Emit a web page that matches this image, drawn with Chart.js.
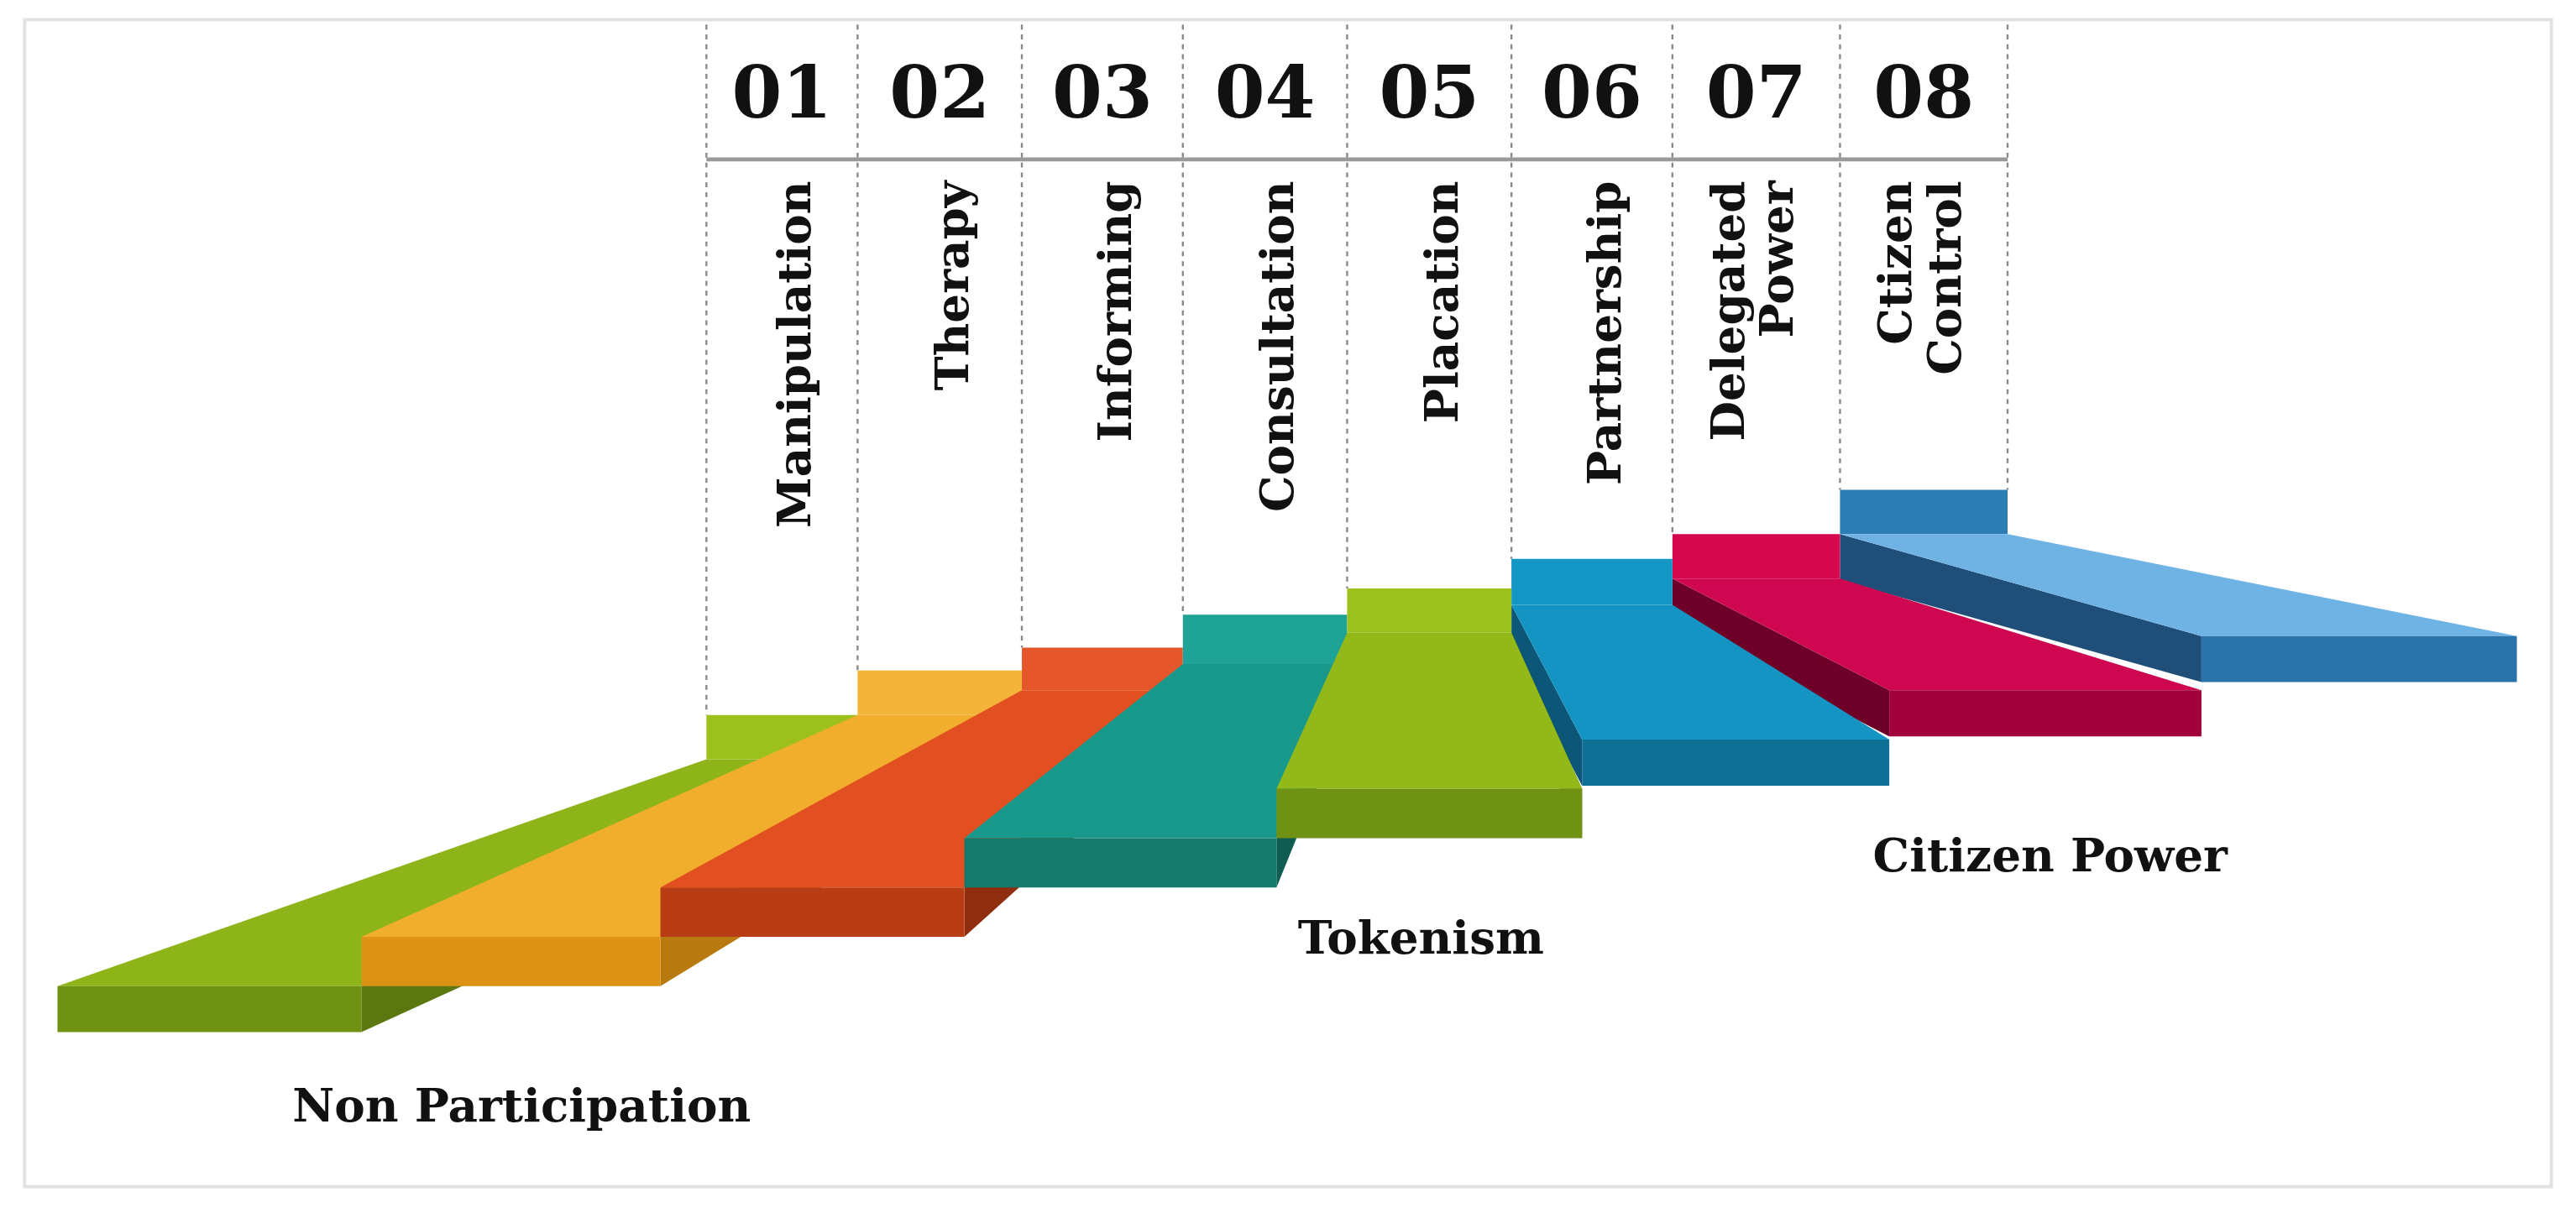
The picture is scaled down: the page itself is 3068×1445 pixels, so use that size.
<!DOCTYPE html>
<html><head><meta charset="utf-8">
<script src="https://cdn.jsdelivr.net/npm/chart.js@4/dist/chart.umd.min.js"></script>
<style>html,body{margin:0;padding:0;background:#fff}canvas{display:block}</style>
</head><body>
<canvas id="c" width="3068" height="1445"></canvas>
<script>
const stepNumbers = ["01","02","03","04","05","06","07","08"];
const stepLabels = [["Manipulation"],["Therapy"],["Informing"],["Consultation"],["Placation"],["Partnership"],["Delegated","Power"],["Ctizen","Control"]];
const columnEdges = [430,522,622,720,820,920,1018,1120,1222];
const tabTop = [435,408,394,374,358,340,325,298];
const tabBottom = [462,435,420,404,385,368,352,325];
const frontLeft = [35,220,402,587,777,963,1150,1340];
const frontRight = [220,402,587,777,963,1150,1340,1532];
const frontTop = [600,570,540,510,480,450,420,387];
const frontBottom = [628,600,570,540,510,478,448,415];
const tabColors = ["#9cc11d","#f4b43a","#e5562a","#1fa396","#9cc11d","#1597c6","#d6094f","#2d7db5"];
const rampColors = ["#8db51a","#f0ae2c","#e24f20","#18998b","#92b81a","#1494c3","#cf0750","#6fb3e4"];
const frontColors = ["#6f9114","#dc9214","#b83c14","#137a6c","#6f9114","#0f7096","#a2003a","#2a73aa"];
const sideColors = ["#5b7810","#b87a0e","#8f2e0e","#0e5c52","#5b7810","#0c5677","#6e0028","#1f4f78"];
const groupNames = ["Non Participation","Tokenism","Citizen Power"];
const groupX = [178,790,1140];
const groupY = [675,573,523];
const drawOrder = [7,6,5,0,1,2,3,4];

const infographic = {
  id:'infographic',
  afterDraw(chart){
    const ctx = chart.ctx, X = v=>chart.scales.x.getPixelForValue(v), Y = v=>chart.scales.y.getPixelForValue(v);
    const S = chart.width/1568;
    const poly = (pts,col)=>{ctx.beginPath();pts.forEach((p,i)=>i?ctx.lineTo(X(p[0]),Y(p[1])):ctx.moveTo(X(p[0]),Y(p[1])));ctx.closePath();ctx.fillStyle=col;ctx.fill();};
    ctx.save();
    ctx.strokeStyle="#e2e2e2";ctx.lineWidth=2*S;ctx.strokeRect(X(15),Y(12),X(1553)-X(15),Y(722)-Y(12));
    ctx.setLineDash([3*S,3*S]);ctx.strokeStyle="#888";ctx.lineWidth=1.2*S;
    columnEdges.forEach((x,i)=>{const lv=Math.min(tabTop[Math.max(0,i-1)],tabTop[Math.min(7,i)]);ctx.beginPath();ctx.moveTo(X(x),Y(15));ctx.lineTo(X(x),Y(i===0?tabTop[0]:lv));ctx.stroke();});
    ctx.setLineDash([]);
    ctx.strokeStyle="#999";ctx.lineWidth=2.5*S;ctx.beginPath();ctx.moveTo(X(columnEdges[0]),Y(97));ctx.lineTo(X(columnEdges[8]),Y(97));ctx.stroke();
    drawOrder.forEach(i=>{
      const L=columnEdges[i],R=columnEdges[i+1],th=frontBottom[i]-frontTop[i],right=i>=5;
      poly([[L,tabTop[i]],[R,tabTop[i]],[R,tabBottom[i]],[L,tabBottom[i]]],tabColors[i]);
      if(right){
        poly([[L,tabBottom[i]],[frontLeft[i],frontTop[i]],[frontLeft[i],frontBottom[i]],[L,tabBottom[i]+th]],sideColors[i]);
      } else {
        poly([[R,tabBottom[i]],[frontRight[i],frontTop[i]],[frontRight[i],frontBottom[i]],[R,tabBottom[i]+th]],sideColors[i]);
      }
      poly([[L,tabBottom[i]],[R,tabBottom[i]],[frontRight[i],frontTop[i]],[frontLeft[i],frontTop[i]]],rampColors[i]);
      poly([[frontLeft[i],frontTop[i]],[frontRight[i],frontTop[i]],[frontRight[i],frontBottom[i]],[frontLeft[i],frontBottom[i]]],frontColors[i]);
    });
    ctx.fillStyle="#111";ctx.textAlign="center";ctx.textBaseline="middle";
    ctx.font=`bold ${44*S}px "DejaVu Serif"`;
    stepNumbers.forEach((n,i)=>ctx.fillText(n,X((columnEdges[i]+columnEdges[i+1])/2),Y(60)));
    ctx.font=`bold ${28*S}px "DejaVu Serif"`;ctx.textAlign="right";
    stepLabels.forEach((lines,i)=>{
      const cx=(columnEdges[i]+columnEdges[i+1])/2+(lines.length>1?0:10);
      lines.forEach((t,k)=>{
        const off=(k-(lines.length-1)/2)*30;
        ctx.save();ctx.translate(X(cx+off),Y(110));ctx.rotate(-Math.PI/2);ctx.fillText(t,0,0);ctx.restore();
      });
    });
    ctx.textAlign="left";ctx.font=`bold ${28*S}px "DejaVu Serif"`;
    groupNames.forEach((g,i)=>ctx.fillText(g,X(groupX[i]),Y(groupY[i])));
    ctx.restore();
  }
};

new Chart(document.getElementById('c'),{
  type:'scatter',
  data:{datasets:[{data:[],pointRadius:0}]},
  options:{responsive:false,animation:false,devicePixelRatio:1,
    layout:{padding:0},
    plugins:{legend:{display:false},tooltip:{enabled:false}},
    scales:{x:{type:'linear',min:0,max:1568,display:false},y:{type:'linear',min:0,max:738,reverse:true,display:false}}},
  plugins:[infographic]
});
</script>
</body></html>
